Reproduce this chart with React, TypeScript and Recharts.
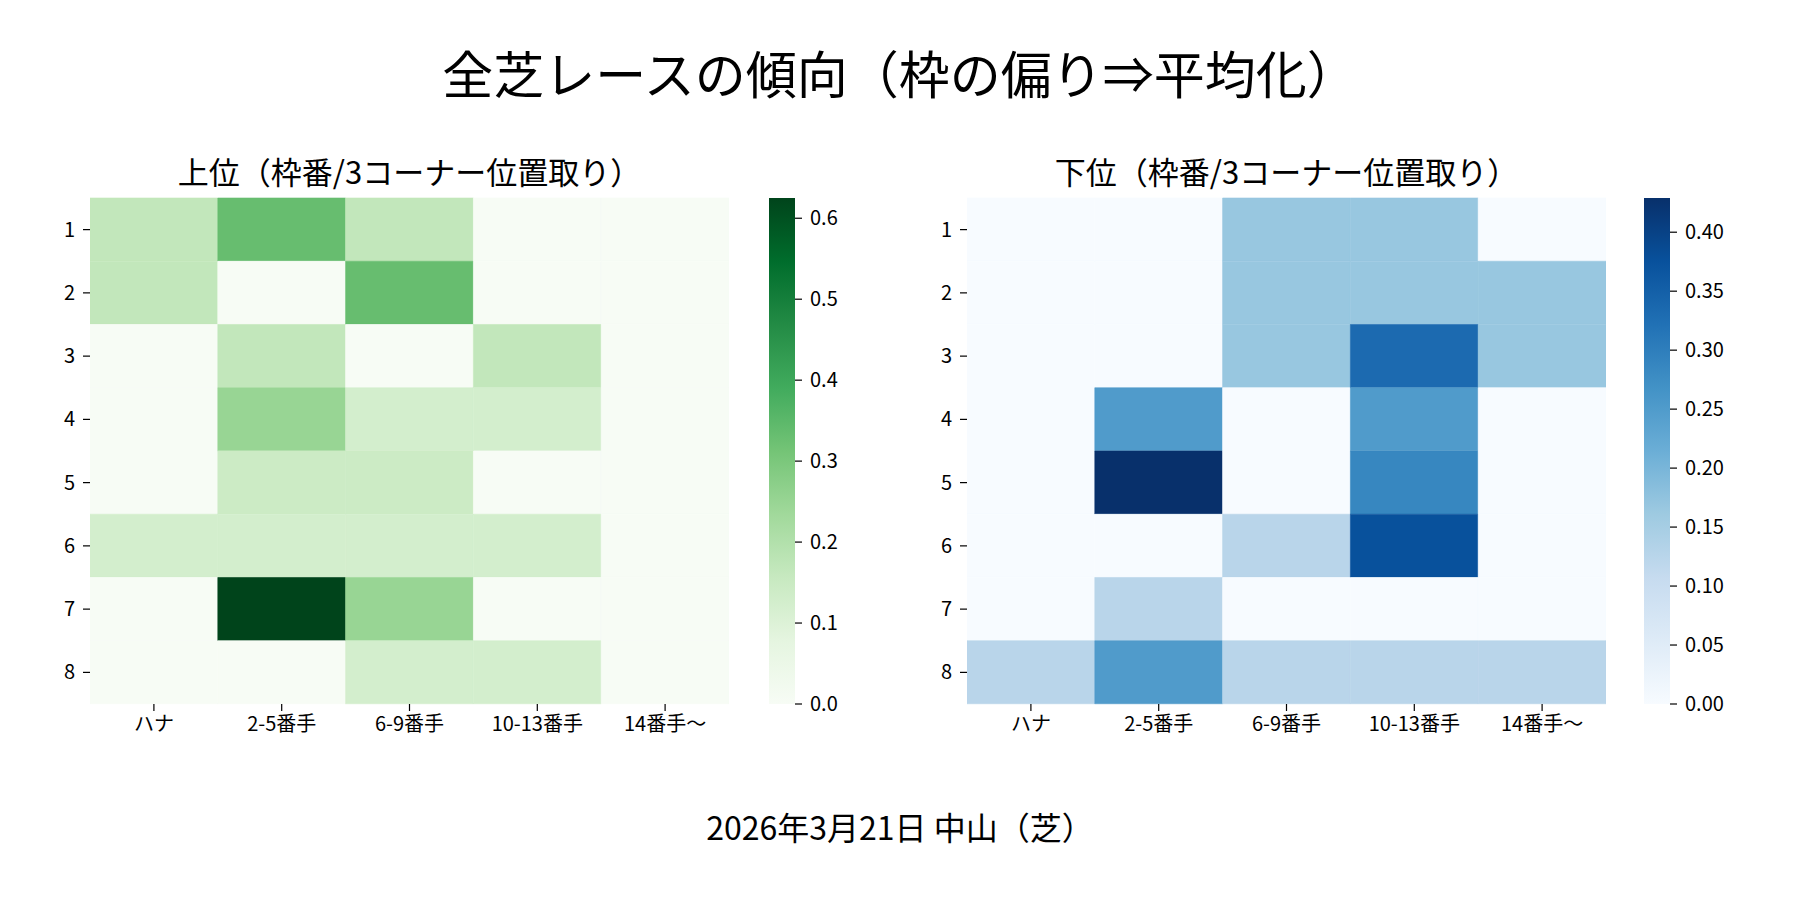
import React from 'react';
import { BarChart, Bar, XAxis, YAxis, Cell } from 'recharts';

const FONT = "'Noto Sans CJK JP', 'Noto Sans', sans-serif";

const ROWS = ['1', '2', '3', '4', '5', '6', '7', '8'];
const COLS = ['ハナ', '2-5番手', '6-9番手', '10-13番手', '14番手〜'];

// 上位: share per 枠番 (rows) x 3コーナー位置 (cols)
const TOP_VALUES = [
  [0.167, 0.333, 0.167, 0, 0],
  [0.167, 0, 0.333, 0, 0],
  [0, 0.167, 0, 0.167, 0],
  [0, 0.25, 0.125, 0.125, 0],
  [0, 0.143, 0.143, 0, 0],
  [0.125, 0.125, 0.125, 0.125, 0],
  [0, 0.625, 0.25, 0, 0],
  [0, 0, 0.125, 0.125, 0],
];

// 下位
const BOTTOM_VALUES = [
  [0, 0, 0.167, 0.167, 0],
  [0, 0, 0.167, 0.167, 0.167],
  [0, 0, 0.167, 0.333, 0.167],
  [0, 0.25, 0, 0.25, 0],
  [0, 0.429, 0, 0.286, 0],
  [0, 0, 0.125, 0.375, 0],
  [0, 0.125, 0, 0, 0],
  [0.125, 0.25, 0.125, 0.125, 0.125],
];

const GREEN_TICKS = [0, 0.1, 0.2, 0.3, 0.4, 0.5, 0.6];
const BLUE_TICKS = [0, 0.05, 0.1, 0.15, 0.2, 0.25, 0.3, 0.35, 0.4];

const GREENS = ['#f7fcf5', '#e5f5e0', '#c7e9c0', '#a1d99b', '#74c476', '#41ab5d', '#238b45', '#006d2c', '#00441b'];
const BLUES = ['#f7fbff', '#deebf7', '#c6dbef', '#9ecae1', '#6baed6', '#4292c6', '#2171b5', '#08519c', '#08306b'];

const hex = (c: string) => [1, 3, 5].map((i) => parseInt(c.slice(i, i + 2), 16));

function rampColor(ramp: string[], t: number) {
  const x = Math.max(0, Math.min(1, t)) * (ramp.length - 1);
  const i = Math.min(Math.floor(x), ramp.length - 2);
  const f = x - i;
  const a = hex(ramp[i]);
  const b = hex(ramp[i + 1]);
  const m = a.map((v, k) => Math.round(v + (b[k] - v) * f));
  return `rgb(${m[0]},${m[1]},${m[2]})`;
}

const tickStyle = { fill: '#000', fontSize: 20, fontFamily: FONT };
const tickLineStyle = { stroke: '#000', strokeWidth: 1.2 };

const Heatmap = ({ values, ramp, left }: { values: number[][]; ramp: string[]; left: number }) => {
  const vmax = Math.max(...values.flat());
  const data = ROWS.map((r) => {
    const o: Record<string, any> = { row: r };
    COLS.forEach((_, j) => (o[`c${j}`] = 1));
    return o;
  });
  return (
    <div style={{ position: 'absolute', left, top: 0 }}>
      <BarChart
        width={760}
        height={780}
        data={data}
        layout="vertical"
        barCategoryGap={0}
        margin={{ top: 198, right: 31, bottom: 36, left: 0 }}
      >
        <XAxis
          type="number"
          domain={[0, COLS.length]}
          allowDataOverflow
          ticks={COLS.map((_, j) => j + 0.5)}
          tickFormatter={(v: number) => COLS[Math.floor(v)]}
          interval={0}
          axisLine={false}
          tickSize={7}
          tickMargin={6}
          tick={tickStyle}
          tickLine={tickLineStyle}
          height={40}
        />
        <YAxis
          type="category"
          dataKey="row"
          width={90}
          axisLine={false}
          tickSize={7}
          tickMargin={8}
          tick={tickStyle}
          tickLine={tickLineStyle}
        />
        {COLS.map((_, j) => (
          <Bar key={j} dataKey={`c${j}`} stackId="s" isAnimationActive={false}>
            {values.map((row, i) => {
              const fill = rampColor(ramp, row[j] / vmax);
              return <Cell key={i} fill={fill} stroke={fill} strokeWidth={0.6} />;
            })}
          </Bar>
        ))}
      </BarChart>
    </div>
  );
};

const ColorBar = ({ values, ticks, gradId, left, digits }: { values: number[][]; ticks: number[]; gradId: string; left: number; digits: number }) => {
  const vmax = Math.max(...values.flat());
  return (
    <div style={{ position: 'absolute', left, top: 0 }}>
      <BarChart
        width={110}
        height={780}
        data={[{ k: 'cb', v: vmax }]}
        barCategoryGap={0}
        margin={{ top: 198, right: 0, bottom: 76, left: 0 }}
      >
        <XAxis dataKey="k" type="category" hide />
        <YAxis
          type="number"
          orientation="right"
          domain={[0, vmax]}
          allowDataOverflow
          ticks={ticks}
          interval={0}
          tickFormatter={(v: number) => v.toFixed(digits)}
          width={84}
          axisLine={false}
          tickSize={7}
          tickMargin={8}
          tick={tickStyle}
          tickLine={tickLineStyle}
        />
        <Bar dataKey="v" fill={`url(#${gradId})`} isAnimationActive={false} />
      </BarChart>
    </div>
  );
};

const Gradient = ({ id, ramp }: { id: string; ramp: string[] }) => (
  <linearGradient id={id} x1="0" y1="1" x2="0" y2="0">
    {ramp.map((c, i) => (
      <stop key={i} offset={i / (ramp.length - 1)} stopColor={c} />
    ))}
  </linearGradient>
);

export default function App() {
  return (
    <div style={{ position: 'relative', width: 1800, height: 900, background: '#fff', fontFamily: FONT }}>
      <style>{`body{margin:0;}`}</style>
      <svg width={0} height={0} style={{ position: 'absolute' }}>
        <defs>
          <Gradient id="gGreens" ramp={GREENS} />
          <Gradient id="gBlues" ramp={BLUES} />
        </defs>
      </svg>
      <svg width={1800} height={900} style={{ position: 'absolute', left: 0, top: 0 }}>
        <text x={900} y={94} textAnchor="middle" fontSize={51} fontFamily={FONT} fill="#000">
          全芝レースの傾向（枠の偏り⇒平均化）
        </text>
        <text x={409.5} y={184} textAnchor="middle" fontSize={31} fontFamily={FONT} fill="#000">
          上位（枠番/3コーナー位置取り）
        </text>
        <text x={1286.5} y={184} textAnchor="middle" fontSize={31} fontFamily={FONT} fill="#000">
          下位（枠番/3コーナー位置取り）
        </text>
        <text x={900} y={840} textAnchor="middle" fontSize={32} fontFamily={FONT} fill="#000">
          2026年3月21日 中山（芝）
        </text>
      </svg>
      <Heatmap values={TOP_VALUES} ramp={GREENS} left={0} />
      <ColorBar values={TOP_VALUES} ticks={GREEN_TICKS} gradId="gGreens" left={769} digits={1} />
      <Heatmap values={BOTTOM_VALUES} ramp={BLUES} left={877} />
      <ColorBar values={BOTTOM_VALUES} ticks={BLUE_TICKS} gradId="gBlues" left={1644} digits={2} />
    </div>
  );
}
